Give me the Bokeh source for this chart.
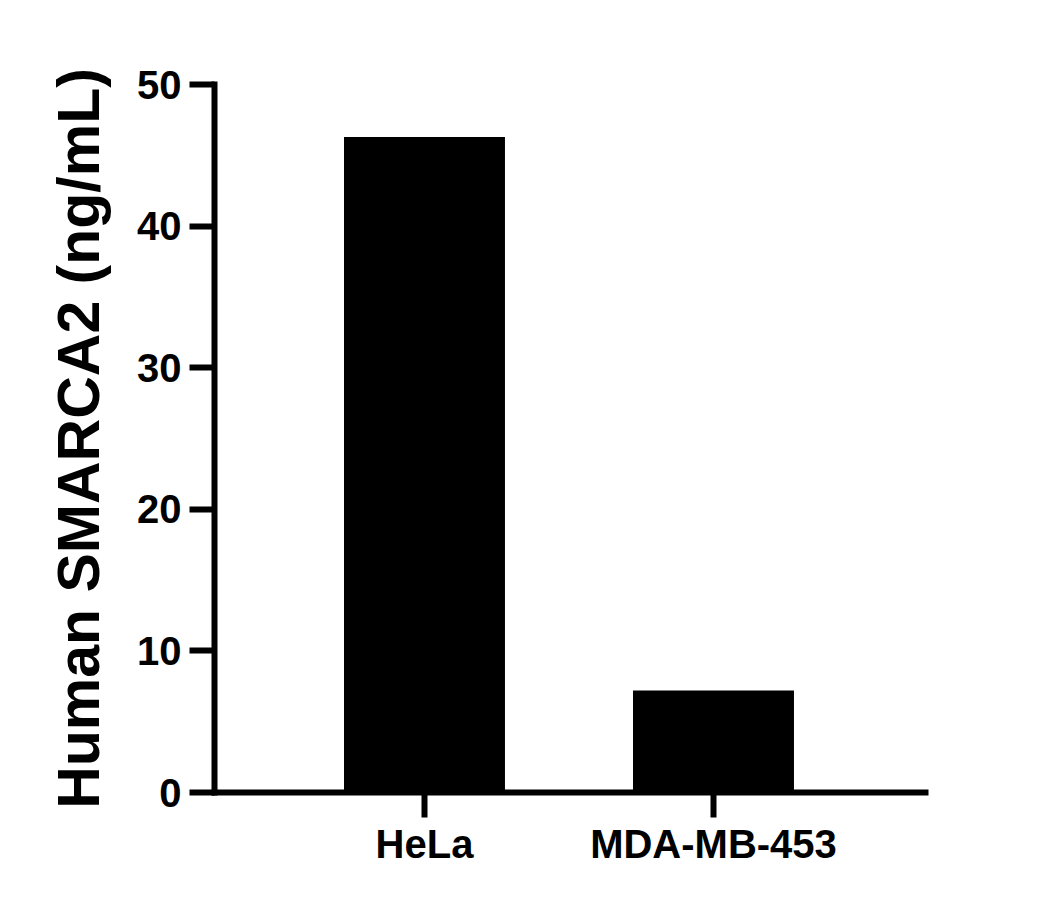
from bokeh.plotting import figure
from bokeh.models import Range1d, FixedTicker, ColumnDataSource
from bokeh.embed import file_html
from bokeh.resources import INLINE

categories = ["HeLa", "MDA-MB-453"]
values = [46.3, 7.2]
y_ticks = [0, 10, 20, 30, 40, 50]

xpos = [i + 1 for i in range(len(categories))]
src = ColumnDataSource(dict(x=xpos, top=values))

W, H = 1030, 880
p = figure(width=W, height=H, output_backend="svg", toolbar_location=None,
           x_range=Range1d(0.2734, 2.7336), y_range=Range1d(0, 50),
           min_border_left=214, min_border_right=W - 925,
           min_border_top=84, min_border_bottom=H - 792)

p.vbar(x="x", top="top", bottom=0, width=0.557, source=src,
       fill_color="black", line_color=None)

p.outline_line_color = None
p.grid.visible = False
p.background_fill_color = "white"
p.border_fill_color = "white"

font = "Liberation Sans"
for ax in (p.xaxis[0], p.yaxis[0]):
    ax.axis_line_width = 6
    ax.axis_line_color = "black"
    ax.axis_line_cap = "square"
    ax.major_tick_line_width = 6
    ax.major_tick_line_color = "black"
    ax.major_tick_in = 0
    ax.major_tick_out = 25
    ax.minor_tick_line_color = None
    ax.major_label_text_font = font
    ax.major_label_text_font_style = "bold"
    ax.major_label_text_color = "black"

p.yaxis[0].ticker = FixedTicker(ticks=y_ticks)
p.yaxis[0].major_label_text_font_size = "40px"
p.yaxis[0].major_label_standoff = 8
p.yaxis[0].axis_label = "Human SMARCA2 (ng/mL)"
p.yaxis[0].axis_label_text_font = font
p.yaxis[0].axis_label_text_font_style = "bold"
p.yaxis[0].axis_label_text_font_size = "59px"
p.yaxis[0].axis_label_text_color = "black"
p.yaxis[0].axis_label_standoff = 22

p.xaxis[0].ticker = FixedTicker(ticks=xpos)
p.xaxis[0].major_label_overrides = {x: c for x, c in zip(xpos, categories)}
p.xaxis[0].major_label_text_font_size = "40px"
p.xaxis[0].major_label_standoff = 4

open("out.html", "w").write(file_html(p, INLINE))
